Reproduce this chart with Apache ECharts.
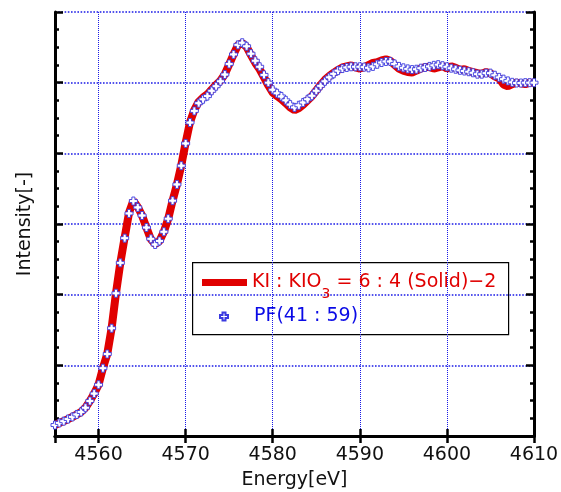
<!DOCTYPE html>
<html><head><meta charset="utf-8">
<script src="https://cdn.jsdelivr.net/npm/echarts@6/dist/echarts.min.js"></script>
<style>html,body{margin:0;padding:0;background:#fff}#c{width:561px;height:492px}</style>
</head><body><div id="c"></div>
<script>
// Energy grid (eV)
var energy = [
4555.0,4555.5,4556.0,4556.5,4557.0,4557.5,4558.0,4558.5,4559.0,4559.5,
4560.0,4560.5,4561.0,4561.5,4562.0,4562.5,4563.0,4563.5,4564.0,4564.5,
4565.0,4565.5,4566.0,4566.5,4567.0,4567.5,4568.0,4568.5,4569.0,4569.5,
4570.0,4570.5,4571.0,4571.5,4572.0,4572.5,4573.0,4573.5,4574.0,4574.5,
4575.0,4575.5,4576.0,4576.5,4577.0,4577.5,4578.0,4578.5,4579.0,4579.5,
4580.0,4580.5,4581.0,4581.5,4582.0,4582.5,4583.0,4583.5,4584.0,4584.5,
4585.0,4585.5,4586.0,4586.5,4587.0,4587.5,4588.0,4588.5,4589.0,4589.5,
4590.0,4590.5,4591.0,4591.5,4592.0,4592.5,4593.0,4593.5,4594.0,4594.5,
4595.0,4595.5,4596.0,4596.5,4597.0,4597.5,4598.0,4598.5,4599.0,4599.5,
4600.0,4600.5,4601.0,4601.5,4602.0,4602.5,4603.0,4603.5,4604.0,4604.5,
4605.0,4605.5,4606.0,4606.5,4607.0,4607.5,4608.0,4608.5,4609.0,4609.5,
4610.0];
// KI : KIO3 = 6 : 4 (Solid)-2  (measured)
var solid = [
0.031,0.037,0.042,0.048,0.054,0.061,0.068,0.080,0.099,0.120,
0.145,0.192,0.232,0.305,0.404,0.490,0.562,0.632,0.666,0.648,
0.624,0.590,0.557,0.543,0.552,0.578,0.615,0.666,0.712,0.766,
0.830,0.888,0.923,0.946,0.958,0.967,0.981,0.994,1.006,1.024,
1.052,1.080,1.106,1.112,1.101,1.078,1.056,1.038,1.015,0.992,
0.972,0.962,0.953,0.942,0.930,0.922,0.928,0.938,0.950,0.962,
0.978,0.994,1.008,1.019,1.028,1.036,1.043,1.046,1.049,1.043,
1.040,1.044,1.050,1.056,1.058,1.063,1.066,1.062,1.050,1.040,
1.034,1.030,1.029,1.034,1.040,1.044,1.044,1.040,1.043,1.047,
1.040,1.046,1.042,1.036,1.038,1.033,1.030,1.027,1.025,1.030,
1.026,1.018,1.012,0.995,0.990,0.996,1.000,0.998,0.996,1.000,
1.000];
// PF(41 : 59)  (fit)
var pf = [
0.031,0.037,0.042,0.048,0.054,0.061,0.068,0.080,0.099,0.120,
0.145,0.192,0.232,0.305,0.404,0.490,0.560,0.630,0.665,0.647,
0.624,0.590,0.558,0.542,0.552,0.578,0.615,0.666,0.712,0.765,
0.828,0.887,0.920,0.942,0.953,0.962,0.977,0.990,1.004,1.023,
1.053,1.080,1.107,1.113,1.103,1.082,1.062,1.045,1.022,1.000,
0.980,0.970,0.961,0.950,0.938,0.930,0.936,0.944,0.953,0.963,
0.977,0.991,1.004,1.015,1.025,1.034,1.040,1.043,1.045,1.045,
1.045,1.044,1.042,1.046,1.052,1.057,1.060,1.060,1.053,1.046,
1.042,1.039,1.037,1.038,1.041,1.043,1.046,1.049,1.051,1.048,
1.045,1.041,1.038,1.035,1.033,1.031,1.028,1.024,1.024,1.027,
1.027,1.021,1.015,1.010,1.005,1.001,0.999,0.999,1.000,1.000,
1.000];
var seriesNames = ['KI : KIO3 = 6 : 4 (Solid)-2', 'PF(41 : 59)'];

var FONT = 'DejaVu Sans';
function pairs(xs, ys){ return xs.map(function(x,i){ return [x, ys[i]]; }); }
var axisLine = {show:true, lineStyle:{color:'#000', width:3}};
var gridBlue = {show:true, lineStyle:{color:'#1a1ae6', type:'dotted', width:1}};
var plus = 'path://M2.5,0 H5.5 V2.5 H8 V5.5 H5.5 V8 H2.5 V5.5 H0 V2.5 H2.5 Z';

var chart = echarts.init(document.getElementById('c'), null, {renderer:'canvas'});
chart.setOption({
  animation:false,
  backgroundColor:'#fff',
  grid:{left:55, right:27, top:12, bottom:56, containLabel:false, outerBoundsMode:'none'},
  xAxis:[{
    type:'value', min:4555, max:4610, position:'bottom',
    name:'Energy[eV]', nameLocation:'middle', nameGap:35,
    nameTextStyle:{fontFamily:FONT, fontSize:19, color:'#111'},
    axisLine:axisLine,
    axisTick:{show:true, inside:true, length:7, lineStyle:{color:'#000', width:2.5}},
    axisLabel:{showMinLabel:false, fontFamily:FONT, fontSize:19, color:'#111', margin:10,
      formatter:function(v){ return String(v); }},
    splitLine:gridBlue
  },{
    type:'value', min:4555, max:4610, position:'top',
    axisLine:axisLine,
    axisTick:{show:true, inside:true, length:7, lineStyle:{color:'#000', width:2.5}},
    axisLabel:{show:false}, splitLine:{show:false}
  }],
  yAxis:[{
    type:'value', min:0, max:1.2, interval:0.2, position:'left',
    name:'Intensity[-]', nameLocation:'middle', nameGap:20,
    nameTextStyle:{fontFamily:FONT, fontSize:19, color:'#111'},
    axisLine:axisLine,
    axisTick:{show:true, inside:true, length:8, lineStyle:{color:'#000', width:2.5}},
    minorTick:{show:true, splitNumber:4, length:4, lineStyle:{color:'#000', width:2.5}},
    axisLabel:{show:false},
    splitLine:{show:true, lineStyle:{color:'#1a1ae6', type:'dotted', width:1.6}}
  },{
    type:'value', min:0, max:1.2, interval:0.2, position:'right',
    axisLine:axisLine,
    axisTick:{show:true, inside:true, length:8, lineStyle:{color:'#000', width:2.5}},
    minorTick:{show:true, splitNumber:4, length:4, lineStyle:{color:'#000', width:2.5}},
    axisLabel:{show:false}, splitLine:{show:false}
  }],
  legend:[{
    data:[seriesNames[0]], left:202, top:273, orient:'vertical', padding:0,
    icon:'rect', itemWidth:45, itemHeight:7,
    formatter:function(){ return '{t|KI : KIO}{s|3}{t| = 6 : 4 (Solid)\u22122}'; },
    textStyle:{fontFamily:FONT, fontSize:19, color:'#e00000',
      rich:{
        t:{fontFamily:FONT, fontSize:19, color:'#e00000', lineHeight:38, verticalAlign:'middle'},
        s:{fontFamily:FONT, fontSize:14, color:'#e00000', lineHeight:38, verticalAlign:'bottom'}
      }}
  },{
    data:[seriesNames[1]], left:219, top:307, orient:'vertical', padding:0,
    itemWidth:8, itemHeight:8,
    textStyle:{fontFamily:FONT, fontSize:19, color:'#0a0ae6', padding:[0,0,0,21]}
  }],
  graphic:[{
    type:'rect', left:192, top:262, z:0,
    shape:{width:316, height:72},
    style:{fill:'#fff', stroke:'#000', lineWidth:1.2}
  }],
  series:[{
    name:seriesNames[0], type:'line', data:pairs(energy, solid),
    showSymbol:false, symbol:'none', z:2,
    lineStyle:{color:'#e00000', width:8},
    itemStyle:{color:'#e00000'}
  },{
    name:seriesNames[1], type:'scatter', data:pairs(energy, pf),
    symbol:plus, symbolSize:8, symbolKeepAspect:true, z:3,
    itemStyle:{color:'#ffffff', borderColor:'#3a3ae0', borderWidth:0.9, opacity:1}
  }]
});
</script></body></html>
